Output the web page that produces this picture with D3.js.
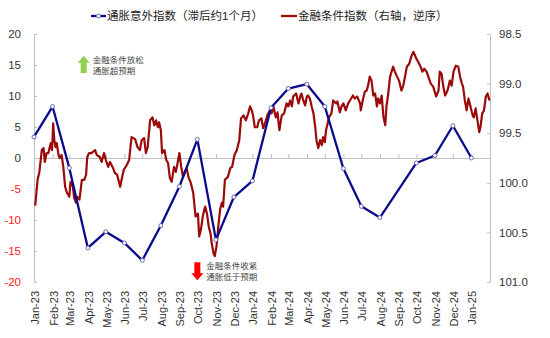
<!DOCTYPE html>
<html>
<head>
<meta charset="utf-8">
<script src="https://cdn.jsdelivr.net/npm/d3@7"></script>
<style>
  html, body { margin: 0; padding: 0; background: #fff; }
  svg { display: block; }
  .num { font-family: "Liberation Sans", Arial, sans-serif; }
  .cjk { font-family: "Liberation Sans", "Noto Sans CJK SC", sans-serif; }
</style>
</head>
<body>
<svg id="chart" width="550" height="338"></svg>
<script>
// Monthly inflation surprise index (lagged ~1 month), left axis
const surpriseMonths = ["2023-01","2023-02","2023-03","2023-04","2023-05","2023-06","2023-07","2023-08","2023-09","2023-10","2023-11","2023-12",
  "2024-01","2024-02","2024-03","2024-04","2024-05","2024-06","2024-07","2024-08","2024-09","2024-10","2024-11","2024-12","2025-01"];
const surpriseValues = [3.4, 8.3, -1.6, -14.5, -11.9, -13.7, -16.5, -10.9, -4.6, 3.0, -13.2, -6.3,
  -3.7, 8.1, 11.2, 11.9, 8.3, -1.7, -7.8, -9.6, null, -0.8, 0.4, 5.2, 0.0];

// Financial conditions index, right axis (reversed)
const fciDates = [
  "2023-01-03","2023-01-04","2023-01-07","2023-01-10","2023-01-14","2023-01-17","2023-01-19","2023-01-22","2023-01-25","2023-01-27","2023-01-29","2023-01-31",
  "2023-02-01","2023-02-02","2023-02-04","2023-02-06","2023-02-08","2023-02-11","2023-02-13","2023-02-16","2023-02-19","2023-02-22","2023-02-25",
  "2023-03-01","2023-03-03","2023-03-07","2023-03-09","2023-03-12","2023-03-14","2023-03-18","2023-03-22","2023-03-26","2023-03-29","2023-03-31",
  "2023-04-03","2023-04-07","2023-04-13","2023-04-16","2023-04-21","2023-04-24","2023-04-28",
  "2023-05-01","2023-05-05","2023-05-08","2023-05-13","2023-05-16","2023-05-20","2023-05-25","2023-05-28","2023-05-31",
  "2023-06-05","2023-06-09","2023-06-13","2023-06-19","2023-06-23","2023-06-27","2023-06-30",
  "2023-07-04","2023-07-07","2023-07-10","2023-07-14","2023-07-18","2023-07-21","2023-07-24","2023-07-27","2023-07-29",
  "2023-08-01","2023-08-03","2023-08-07","2023-08-10","2023-08-13","2023-08-16","2023-08-19","2023-08-23","2023-08-26","2023-08-29",
  "2023-09-01","2023-09-04","2023-09-07","2023-09-10","2023-09-13","2023-09-16","2023-09-20","2023-09-24","2023-09-28",
  "2023-10-02","2023-10-04","2023-10-07","2023-10-10","2023-10-14","2023-10-17","2023-10-20","2023-10-23","2023-10-25","2023-10-28","2023-10-30",
  "2023-11-02","2023-11-05","2023-11-08","2023-11-11","2023-11-13","2023-11-16","2023-11-21","2023-11-25","2023-11-28",
  "2023-12-02","2023-12-06","2023-12-10","2023-12-13","2023-12-17","2023-12-21","2023-12-25","2023-12-28","2023-12-31",
  "2024-01-02","2024-01-05","2024-01-09","2024-01-12","2024-01-16","2024-01-19","2024-01-22","2024-01-26","2024-01-30",
  "2024-02-02","2024-02-05","2024-02-09","2024-02-12","2024-02-15","2024-02-19","2024-02-23","2024-02-27",
  "2024-03-01","2024-03-04","2024-03-07","2024-03-09","2024-03-14","2024-03-18","2024-03-21","2024-03-23","2024-03-26","2024-03-29",
  "2024-04-01","2024-04-03","2024-04-06","2024-04-09","2024-04-12","2024-04-15","2024-04-17","2024-04-20","2024-04-23","2024-04-26","2024-04-28",
  "2024-05-01","2024-05-03","2024-05-05","2024-05-08","2024-05-12","2024-05-15","2024-05-20","2024-05-22","2024-05-26","2024-05-29",
  "2024-06-01","2024-06-05","2024-06-09","2024-06-12","2024-06-17","2024-06-20","2024-06-24","2024-06-29","2024-06-30",
  "2024-07-04","2024-07-07","2024-07-10","2024-07-13","2024-07-15","2024-07-18","2024-07-21","2024-07-24","2024-07-27","2024-07-29",
  "2024-08-01","2024-08-04","2024-08-07","2024-08-10","2024-08-12","2024-08-15","2024-08-18","2024-08-21","2024-08-23","2024-08-26","2024-08-29",
  "2024-09-02","2024-09-06","2024-09-09","2024-09-12","2024-09-15","2024-09-19","2024-09-23","2024-09-26","2024-09-29",
  "2024-10-01","2024-10-04","2024-10-08","2024-10-11","2024-10-14","2024-10-18","2024-10-21","2024-10-25","2024-10-29",
  "2024-11-03","2024-11-07","2024-11-09","2024-11-12","2024-11-15","2024-11-18","2024-11-22","2024-11-26","2024-11-29",
  "2024-12-02","2024-12-06","2024-12-10","2024-12-13","2024-12-16","2024-12-18","2024-12-21","2024-12-24","2024-12-27","2024-12-30",
  "2025-01-03","2025-01-05","2025-01-08","2025-01-11","2025-01-14","2025-01-16","2025-01-19","2025-01-22","2025-01-25","2025-01-28","2025-01-31"
];
const fciValues = [
  100.23,100.17,99.97,99.89,99.67,99.65,99.79,99.70,99.70,99.65,99.60,99.67,
  99.57,99.40,99.57,99.64,99.60,99.72,99.75,99.72,99.84,100.04,100.10,
  100.14,99.99,100.04,100.15,100.20,100.14,100.17,99.97,99.97,99.92,99.74,
  99.70,99.70,99.67,99.72,99.74,99.79,99.70,
  99.77,99.84,99.79,99.85,99.90,99.92,100.04,99.95,99.87,
  99.82,99.77,99.54,99.56,99.64,99.67,99.57,
  99.55,99.70,99.64,99.37,99.34,99.42,99.37,99.44,99.39,
  99.47,99.70,99.67,99.77,99.80,99.95,99.99,99.84,99.89,99.80,
  99.70,99.84,99.94,99.89,99.85,99.94,100.00,100.10,100.34,
  100.31,100.54,100.47,100.34,100.24,100.31,100.44,100.51,100.61,100.71,100.74,
  100.64,100.44,100.27,100.20,100.24,99.97,99.94,99.85,99.84,
  99.72,99.67,99.57,99.35,99.32,99.37,99.30,99.23,99.27,
  99.32,99.44,99.44,99.37,99.35,99.45,99.40,99.32,99.27,
  99.30,99.23,99.34,99.29,99.47,99.32,99.30,99.20,
  99.23,99.17,99.23,99.13,99.10,99.20,99.13,99.10,99.17,99.22,
  99.13,99.12,99.15,99.23,99.30,99.44,99.57,99.65,99.57,99.62,99.54,
  99.59,99.47,99.42,99.34,99.30,99.17,99.20,99.18,99.29,99.23,
  99.20,99.27,99.20,99.17,99.12,99.15,99.13,99.20,99.27,
  99.15,99.08,99.07,99.00,98.93,98.97,99.12,99.10,99.23,99.15,
  99.20,99.12,99.34,99.42,99.23,99.10,98.93,98.87,98.83,98.88,98.92,
  98.97,99.07,99.02,98.93,98.83,98.80,98.72,98.68,98.72,
  98.75,98.78,98.83,98.88,98.85,98.88,98.93,99.00,99.03,
  99.13,99.07,98.88,98.90,99.03,99.12,99.07,98.97,99.02,
  98.88,98.82,98.83,98.93,99.00,99.03,99.17,99.27,99.15,99.22,
  99.32,99.34,99.25,99.37,99.49,99.44,99.30,99.27,99.13,99.10,99.17
];

const leftTicks = [20, 15, 10, 5, 0, -5, -10, -15, -20];
const rightTicks = [98.5, 99.0, 99.5, 100.0, 100.5, 101.0];
const legendLabels = ["通胀意外指数（滞后约1个月）", "金融条件指数（右轴，逆序）"];
const annotations = [
  { date: "2023-03-25", top: 16.5, bottom: 13.7, dir: "up", color: "#92D050", lines: ["金融条件放松", "通胀超预期"] },
  { date: "2023-10-01", top: -16.8, bottom: -19.7, dir: "down", color: "#FF0000", lines: ["金融条件收紧", "通胀低于预期"] }
];

const BLUE = "#0A0A8C", RED = "#9A0A0A", GRID = "#BFBFBF", TXT = "#333";
const parse = d3.timeParse("%Y-%m-%d");
const parseMonth = d3.timeParse("%Y-%m");

const svg = d3.select("#chart");
const x = d3.scaleTime().domain([new Date(2023, 0, 1), new Date(2025, 1, 1)]).range([34, 490]);
const yL = d3.scaleLinear().domain([-20, 20]).range([282, 34]);
const yR = d3.scaleLinear().domain([98.5, 101]).range([34, 282]);

const monthDates = surpriseMonths.map(parseMonth);

// Left axis (ticks inside)
svg.append("g").attr("transform", `translate(${x.range()[0]},0)`)
  .call(d3.axisRight(yL).tickValues(leftTicks).tickSize(3).tickSizeOuter(0).tickFormat(""))
  .call(g => g.selectAll("path,line").attr("stroke", GRID));
svg.append("g").selectAll("text").data(leftTicks).join("text")
  .attr("class", "num").attr("x", 21).attr("y", d => yL(d)).attr("dy", "0.36em")
  .attr("text-anchor", "end").attr("font-size", 11.5)
  .attr("fill", d => d < 0 ? "#FF2020" : TXT).text(d => d);

// Right axis (reversed, ticks inside)
svg.append("g").attr("transform", `translate(${x.range()[1]},0)`)
  .call(d3.axisLeft(yR).tickValues(rightTicks).tickSize(3).tickSizeOuter(0).tickFormat(""))
  .call(g => g.selectAll("path,line").attr("stroke", GRID));
svg.append("g").selectAll("text").data(rightTicks).join("text")
  .attr("class", "num").attr("x", 499).attr("y", d => yR(d)).attr("dy", "0.36em")
  .attr("text-anchor", "start").attr("font-size", 11.5).attr("fill", TXT)
  .text(d3.format(".1f"));

// Zero line with monthly ticks
svg.append("g").attr("transform", `translate(0,${yL(0)})`)
  .call(d3.axisTop(x).tickValues(monthDates).tickSize(4).tickSizeOuter(0).tickFormat(""))
  .call(g => g.selectAll("path,line").attr("stroke", GRID));

// Month labels at the bottom
const fmt = d3.timeFormat("%b-%y");
svg.append("g").selectAll("text").data(monthDates).join("text")
  .attr("class", "num").attr("font-size", 11).attr("fill", TXT)
  .attr("text-anchor", "end")
  .attr("transform", d => `translate(${x(d) + 1},291) rotate(-90)`)
  .attr("dy", "0.36em").text(fmt);

// Financial conditions line
const fci = fciDates.map((d, i) => ({ date: parse(d), value: fciValues[i] }));
svg.append("path").datum(fci)
  .attr("fill", "none").attr("stroke", RED).attr("stroke-width", 2.2).attr("stroke-linejoin", "round")
  .attr("d", d3.line().x(d => x(d.date)).y(d => yR(d.value)));

// Inflation surprise line with markers
const surprise = monthDates.map((d, i) => ({ date: d, value: surpriseValues[i] })).filter(d => d.value !== null);
svg.append("path").datum(surprise)
  .attr("fill", "none").attr("stroke", BLUE).attr("stroke-width", 2.3).attr("stroke-linejoin", "round")
  .attr("d", d3.line().x(d => x(d.date)).y(d => yL(d.value)));
svg.append("g").selectAll("circle").data(surprise).join("circle")
  .attr("cx", d => x(d.date)).attr("cy", d => yL(d.value)).attr("r", 2)
  .attr("fill", "#fff").attr("stroke", "#5A5AB0").attr("stroke-width", 0.9);

// Annotation arrows
annotations.forEach(a => {
  const cx = x(parse(a.date)), top = yL(a.top), bot = yL(a.bottom);
  const hw = 6, sw = 3, hh = 7;
  const p = d3.path();
  if (a.dir === "up") {
    p.moveTo(cx, top); p.lineTo(cx + hw, top + hh); p.lineTo(cx + sw, top + hh);
    p.lineTo(cx + sw, bot); p.lineTo(cx - sw, bot); p.lineTo(cx - sw, top + hh);
    p.lineTo(cx - hw, top + hh); p.closePath();
  } else {
    p.moveTo(cx - sw, top); p.lineTo(cx + sw, top); p.lineTo(cx + sw, bot - hh);
    p.lineTo(cx + hw, bot - hh); p.lineTo(cx, bot); p.lineTo(cx - hw, bot - hh);
    p.lineTo(cx - sw, bot - hh); p.closePath();
  }
  svg.append("path").attr("d", p.toString()).attr("fill", a.color);
  a.lines.forEach((t, i) => {
    svg.append("text").attr("class", "cjk").attr("x", cx + 9).attr("y", top + 4 + i * 11)
      .attr("dy", "0.36em").attr("font-size", 8.5).attr("fill", "#444").text(t);
  });
});

// Legend
const legend = svg.append("g");
const legendItems = [
  { x0: 91, x1: 106, color: BLUE, marker: true, label: legendLabels[0] },
  { x0: 281, x1: 297, color: RED, marker: false, label: legendLabels[1] }
];
legendItems.forEach(it => {
  legend.append("line").attr("x1", it.x0).attr("x2", it.x1).attr("y1", 16).attr("y2", 16)
    .attr("stroke", it.color).attr("stroke-width", 2.3);
  if (it.marker) {
    legend.append("circle").attr("cx", (it.x0 + it.x1) / 2).attr("cy", 16).attr("r", 2)
      .attr("fill", "#fff").attr("stroke", "#5A5AB0").attr("stroke-width", 0.9);
  }
  legend.append("text").attr("class", "cjk").attr("x", it.x1 + 1).attr("y", 16).attr("dy", "0.36em")
    .attr("font-size", 11.5).attr("fill", "#222").text(it.label);
});
</script>
</body>
</html>
